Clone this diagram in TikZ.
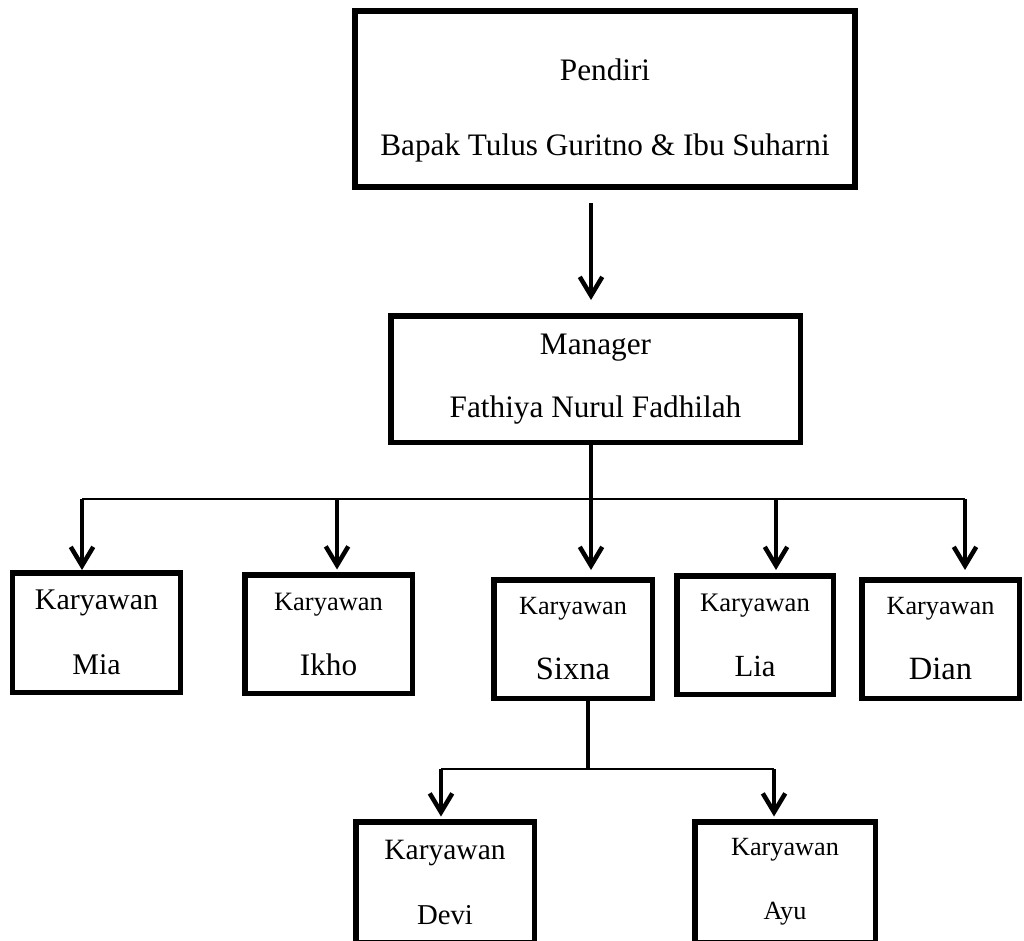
\documentclass[tikz,border=0pt]{standalone}
\usepackage{fontspec}
\setmainfont{Liberation Serif}
\usetikzlibrary{arrows.meta}

\begin{document}
\begin{tikzpicture}[x=0.4pt,y=-0.4pt,
	box/.style = {draw,line width=2.2pt,inner sep=0pt,align=center},
	arr/.style = {line width=1.8pt,shorten >=1pt,-{Straight Barb[length=7.5pt,width=9pt]}},
	stem/.style = {line width=1.8pt},
	bus/.style = {line width=0.8pt}
	]
	\clip (0,0) rectangle (1024,940);
	%PENDIRI
	\node[box,minimum width=200pt,minimum height=70.4pt,font=\fontsize{12.5}{15}\selectfont] (pendiri) at (605,99) {\rule{0pt}{17.7pt}Pendiri\\[15pt]Bapak Tulus Guritno \& Ibu Suharni};
	%MANAGER
	\node[box,minimum width=163.8pt,minimum height=50.6pt,font=\fontsize{12.5}{15}\selectfont] (manager) at (595.5,379) {Manager\\[10pt]Fathiya Nurul Fadhilah};
	%KARYAWAN
	\node[box,minimum width=67pt,minimum height=47.8pt,font=\fontsize{12}{13}\selectfont] (mia) at (96.5,632.5) {Karyawan\\[13pt]Mia};
	\node[box,minimum width=67pt,minimum height=47.4pt,font=\fontsize{10.6}{13}\selectfont] (ikho) at (328.5,634) {Karyawan\\[13pt]{\fontsize{12.5}{13}\selectfont Ikho}};
	\node[box,minimum width=63.4pt,minimum height=47.4pt,font=\fontsize{10.5}{13}\selectfont] (sixna) at (573,639) {Karyawan\\[13pt]{\fontsize{13}{13}\selectfont Sixna}};
	\node[box,minimum width=62.6pt,minimum height=47.4pt,font=\fontsize{10.7}{13}\selectfont] (lia) at (755,635) {Karyawan\\[13pt]{\fontsize{12.3}{13}\selectfont Lia}};
	\node[box,minimum width=63pt,minimum height=47.4pt,font=\fontsize{10.5}{13}\selectfont] (dian) at (940.5,639) {Karyawan\\[13pt]{\fontsize{13}{13}\selectfont Dian}};
	\node[box,minimum width=71.4pt,minimum height=48.2pt,font=\fontsize{11.8}{13}\selectfont] (devi) at (445,882) {Karyawan\\[13pt]{\fontsize{11.5}{13}\selectfont Devi}};
	\node[box,minimum width=72.2pt,minimum height=48.2pt,font=\fontsize{10.5}{13}\selectfont] (ayu) at (785,882) {Karyawan\\[12.6pt]Ayu};
	%GARIS
	\coordinate (spine) at (591,0);
	\coordinate (busL) at (82,499);
	\coordinate (busR) at (965,499);
	\coordinate (dIkho) at (337,499);
	\coordinate (dLia) at (776,499);
	\coordinate (hub) at (588,769);
	\coordinate (subL) at (441,769);
	\coordinate (subR) at (774,769);
	\draw[arr,shorten <=5.2pt,shorten >=5.2pt] (pendiri.south -| spine) -- (manager.north -| spine);
	\draw[arr,shorten >=2.8pt] (manager.south -| spine) -- (sixna.north -| spine);
	\draw[bus] (busL) -- (busR);
	\draw[arr,shorten >=0pt] (busL) -- (busL |- mia.north);
	\draw[arr] (dIkho) -- (dIkho |- ikho.north);
	\draw[arr,shorten >=1.2pt] (dLia) -- (dLia |- lia.north);
	\draw[arr,shorten >=2.8pt] (busR) -- (busR |- dian.north);
	%SUB
	\draw[stem] (sixna.south -| hub) -- (hub);
	\draw[bus] (subL) -- (subR);
	\draw[arr] (subL) -- (subL |- devi.north);
	\draw[arr] (subR) -- (subR |- ayu.north);
\end{tikzpicture}
\end{document}
